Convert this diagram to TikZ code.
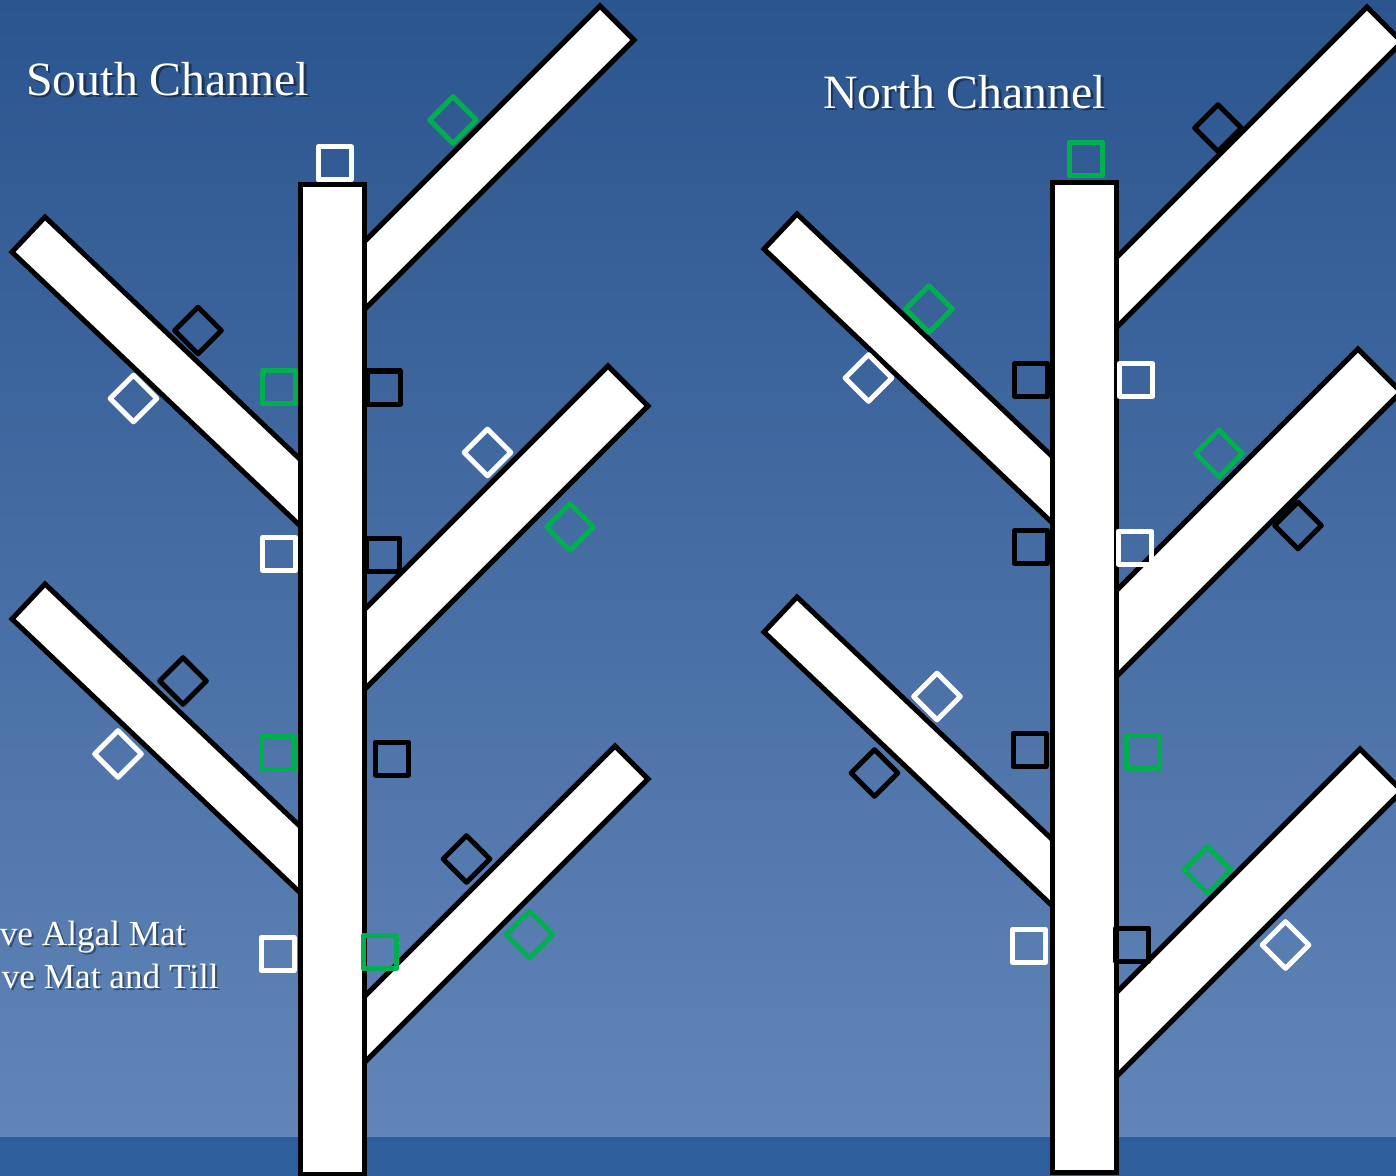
\documentclass[tikz,border=0pt]{standalone}
\usepackage{fontspec}
\setmainfont{Liberation Serif}
\definecolor{bgtop}{HTML}{2B558F}
\definecolor{bgbot}{HTML}{6185B8}
\definecolor{bandcol}{HTML}{2F5E9D}
\definecolor{mkgreen}{HTML}{00B050}
\tikzset{
  bar/.style={fill=white,draw=black,line width=2.5pt,line join=miter},
  mk/.style={shape=rectangle,line width=2.5pt,line join=round,minimum size=16.5pt,inner sep=0pt},
  sqW/.style={mk,draw=white},
  sqG/.style={mk,draw=mkgreen},
  sqK/.style={mk,draw=black},
  dmW/.style={sqW,rotate=45},
  dmG/.style={sqG,rotate=45},
  dmK/.style={sqK,rotate=45},
  titletxt/.style={text=white,font=\fontsize{23.9}{28}\selectfont,inner sep=0pt},
  legtxt/.style={text=white,font=\fontsize{17.6}{21}\selectfont,inner sep=0pt},
  shadowtxt/.style={text=black,opacity=0.4}
}
% right-going branch: top corner (tx,ty), offset a, trunk centre x
\newcommand\RBr[4]{\draw[bar] (#1,#2) -- ({#1+#3},{#2+#3}) -- (#4,{#2+#3+#1+#3-#4}) -- (#4,{#2+#1-#4}) -- cycle;}
% left-going branch: top corner (tx,ty), left corner (lx,ly), trunk centre x
\newcommand\LBr[5]{\draw[bar] (#1,#2) -- (#3,#4) -- (#5,{#4+0.95*(#5-#3)}) -- (#5,{#2+0.95*(#5-#1)}) -- cycle;}
\begin{document}
\begin{tikzpicture}[x=0.5pt,y=-0.5pt]
\useasboundingbox (0,0) rectangle (1396,1176);
% background
\shade[top color=bgtop,bottom color=bgbot] (0,0) rectangle (1396,1137);
\fill[bandcol] (0,1137) rectangle (1396,1176);

% ---- South channel branches ----
\RBr{600}{6}{34}{332}
\LBr{45}{217}{12}{252}{332}
\RBr{608}{366}{40}{332}
\LBr{45}{584}{12}{619}{332}
\RBr{615}{746}{33}{332}
% ---- North channel branches ----
\RBr{1367}{7}{35}{1084}
\LBr{797}{214}{764}{249}{1084}
\RBr{1358}{349}{43}{1084}
\LBr{797}{597}{764}{632}{1084}
\RBr{1360}{749}{42}{1084}

% trunks
\draw[bar] (300,185) rectangle (364,1174);
\draw[bar] (1052,183) rectangle (1116,1172);

% ---- South markers ----
\node[sqW] (s01) at (334.5,163.5) {};
\node[dmG] (s02) at (453,120) {};
\node[dmK] (s03) at (198,330.5) {};
\node[dmW] (s04) at (133.5,398.5) {};
\node[sqG] (s05) at (279,387) {};
\node[sqK] (s06) at (384,387.5) {};
\node[dmW] (s07) at (487.5,452.5) {};
\node[dmG] (s08) at (570,527) {};
\node[sqW] (s09) at (279,554) {};
\node[sqK] (s10) at (383,554.5) {};
\node[dmK] (s11) at (183,681) {};
\node[dmW] (s12) at (118,754) {};
\node[sqG] (s13) at (277.5,753) {};
\node[sqK] (s14) at (392,758.5) {};
\node[dmK] (s15) at (466.5,859) {};
\node[dmG] (s16) at (529.5,934.5) {};
\node[sqW] (s17) at (277.5,954) {};
\node[sqG] (s18) at (380,952) {};

% ---- North markers ----
\node[sqG] (n01) at (1086,159.5) {};
\node[dmK] (n02) at (1218,128) {};
\node[dmG] (n03) at (929,309) {};
\node[dmW] (n04) at (868.5,378) {};
\node[sqK] (n05) at (1031,380) {};
\node[sqW] (n06) at (1136,380) {};
\node[dmG] (n07) at (1219,453.5) {};
\node[dmK] (n08) at (1298,525.5) {};
\node[sqK] (n09) at (1031,547) {};
\node[sqW] (n10) at (1134.5,547.5) {};
\node[dmW] (n11) at (937,696.5) {};
\node[dmK] (n12) at (874.5,773) {};
\node[sqK] (n13) at (1029.5,750) {};
\node[sqG] (n14) at (1143,752) {};
\node[dmG] (n15) at (1207.5,870) {};
\node[dmW] (n16) at (1285.5,945) {};
\node[sqW] (n17) at (1029,946) {};
\node[sqK] (n18) at (1132,944.5) {};

% ---- texts ----
\node[titletxt,shadowtxt,anchor=base west] (tsS) at (28.5,97.5) {South Channel};
\node[titletxt,anchor=base west] (tS) at (26,96) {South Channel};
\node[titletxt,shadowtxt,anchor=base west] (tsN) at (825.5,110.5) {North Channel};
\node[titletxt,anchor=base west] (tN) at (823,109) {North Channel};
\node[legtxt,shadowtxt,anchor=base east] (lsA) at (188,947) {ve Algal Mat};
\node[legtxt,anchor=base east] (lA) at (186,945) {ve Algal Mat};
\node[legtxt,shadowtxt,anchor=base east] (lsB) at (221,990) {ve Mat and Till};
\node[legtxt,anchor=base east] (lB) at (219,988) {ve Mat and Till};
\end{tikzpicture}
\end{document}
